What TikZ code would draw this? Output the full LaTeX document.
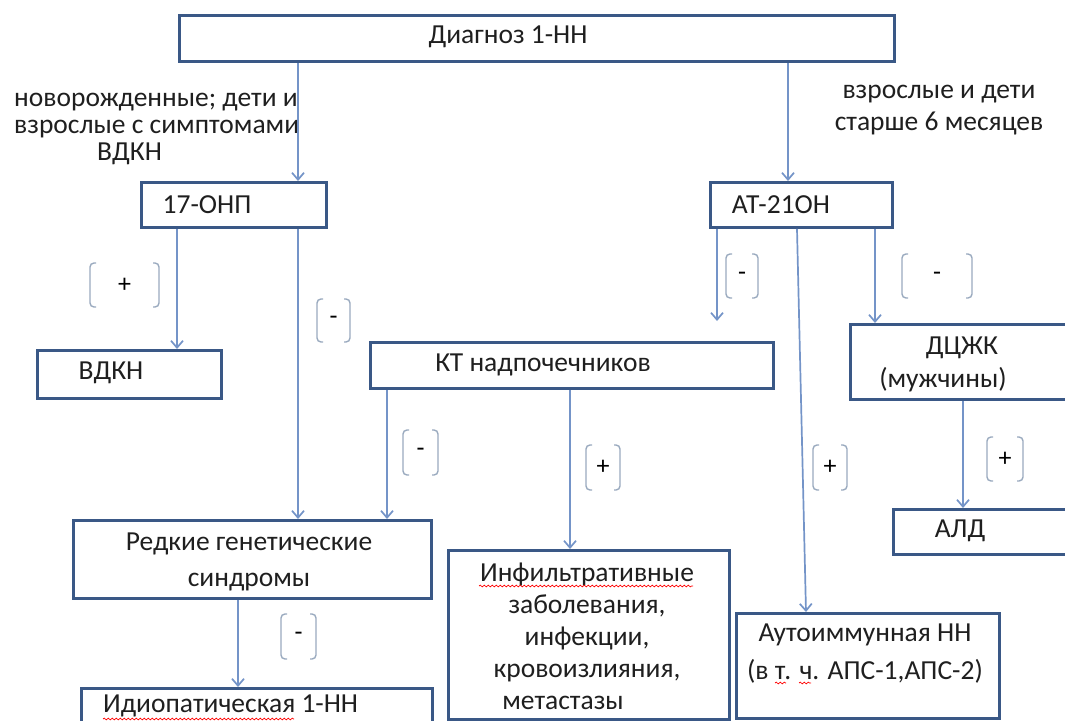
\documentclass[tikz,border=0pt]{standalone}
\usepackage{fontspec}
\setmainfont{Carlito}
\usetikzlibrary{arrows.meta,decorations.pathmorphing}
\definecolor{boxc}{HTML}{3A5886}
\definecolor{arrc}{HTML}{7494C8}
\definecolor{brkc}{HTML}{9AAABF}
\tikzset{
  boxst/.style={draw=boxc, line width=2.9pt, inner sep=0pt, anchor=north west},
  arr/.style={draw=arrc, line width=1.7pt, -{Straight Barb[length=7pt,width=12pt]}},
  txt/.style={font=\fontsize{27.5}{33}\selectfont, text=black!88, inner sep=0pt, align=center},
  brk/.style={draw=brkc, line width=1.4pt, rounded corners=4pt},
  sign/.style={font=\fontsize{26}{26}\selectfont, text=black, inner sep=0pt},
  wavy/.style={draw=red, line width=0.7pt, decorate, decoration={snake, amplitude=0.9pt, segment length=4pt}}
}
\newcommand\sgnbr[6]{%
  \draw[brk] ({#1+6},#3) -- (#1,#3) -- (#1,#4) -- ({#1+6},#4);
  \draw[brk] ({#2-6},#3) -- (#2,#3) -- (#2,#4) -- ({#2-6},#4);
  \node[sign] (#6) at ({(#1+#2)/2},{(#3+#4)/2}) {#5};}
\begin{document}
\begin{tikzpicture}[x=1pt,y=-1pt]
\clip (0,0) rectangle (1065,720);
\fill[white] (0,0) rectangle (1065,720);
% boxes
\node[boxst, minimum width=715pt, minimum height=46pt] (diag) at (178,14) {};
\node[boxst, minimum width=185pt, minimum height=45pt] (onp) at (140,181) {};
\node[boxst, minimum width=182pt, minimum height=45pt] (at) at (709,181) {};
\node[boxst, minimum width=184pt, minimum height=48pt] (vdkn) at (36,349) {};
\node[boxst, minimum width=403pt, minimum height=46pt] (kt) at (369,341) {};
\node[boxst, minimum width=240pt, minimum height=75pt] (dczk) at (849,323) {};
\node[boxst, minimum width=200pt, minimum height=45pt] (ald) at (892,508) {};
\node[boxst, minimum width=358pt, minimum height=78pt] (red) at (72,519) {};
\node[boxst, minimum width=351pt, minimum height=60pt] (idio) at (80,687) {};
\node[boxst, minimum width=281pt, minimum height=169pt] (inf) at (447,549) {};
\node[boxst, minimum width=263pt, minimum height=105pt] (auto) at (735,612) {};
% texts
\node[txt] (diag-t) at (508,37) {Диагноз 1-НН};
\node[txt] (onp-t) at (207,205) {17-ОНП};
\node[txt] (at-t) at (781,205) {АТ-21ОН};
\node[txt] (vdkn-t) at (111,373) {ВДКН};
\node[txt] (kt-t) at (543,365) {КТ надпочечников};
\node[txt, font=\fontsize{27.5}{33}\selectfont] (dczk-t) at (943,364) {\hspace*{38pt}ДЦЖК\\(мужчины)};
\node[txt] (ald-t) at (960,531) {АЛД};
\node[txt, font=\fontsize{27.5}{36}\selectfont] (red-t) at (249,562) {Редкие генетические\\синдромы};
\node[txt, anchor=west] (idio-t) at (103,706) {Идиопатическая 1-НН};
\node[txt, font=\fontsize{27.5}{32}\selectfont] (inf-t) at (587,636) {Инфильтративные\\заболевания,\\инфекции,\\кровоизлияния,\\метастазы\hspace*{48pt}};
\node[txt, font=\fontsize{27.5}{38}\selectfont] (auto-t) at (865,654) {Аутоиммунная НН\\(в т. ч. АПС-1,АПС-2)};
\node[txt, align=left, anchor=west, font=\fontsize{27.5}{27}\selectfont] (lab1) at (14,129) {новорожденные; дети и\\взрослые с симптомами\\\hspace*{83pt}ВДКН};
\node[txt, font=\fontsize{27.5}{32}\selectfont] (lab2) at (939,110) {взрослые и дети\\старше 6 месяцев};
% x positions
\coordinate (x177) at (177,0);
\coordinate (x238) at (238,0);
\coordinate (x298) at (298,0);
\coordinate (x387) at (387,0);
\coordinate (x570) at (570,0);
\coordinate (x788) at (788,0);
\coordinate (x797) at (797,0);
\coordinate (x806) at (806,0);
\coordinate (x875) at (875,0);
\coordinate (x963) at (963,0);
\coordinate (ktin) at (717,321);
% connectors
\draw[arr] (diag.south -| x298) -- (onp.north -| x298);
\draw[arr] (diag.south -| x788) -- (at.north -| x788);
\draw[arr] (onp.south -| x177) -- (vdkn.north -| x177);
\draw[arr] (onp.south -| x298) -- (red.north -| x298);
\draw[arr] (kt.south -| x387) -- (red.north -| x387);
\draw[arr] (kt.south -| x570) -- (inf.north -| x570);
\draw[arr] (at.south -| ktin) -- (ktin);
\draw[arr] (at.south -| x797) -- (auto.north -| x806);
\draw[arr] (at.south -| x875) -- (dczk.north -| x875);
\draw[arr] (dczk.south -| x963) -- (ald.north -| x963);
\draw[arr] (red.south -| x238) -- (idio.north -| x238);
% sign brackets
\sgnbr{90}{159}{263}{307}{+}{s1}
\sgnbr{317}{350}{299}{342}{-}{s2}
\sgnbr{403}{438}{430}{475}{-}{s3}
\sgnbr{726}{758}{254}{298}{-}{s4}
\sgnbr{902}{972}{254}{298}{-}{s5}
\sgnbr{586}{620}{445}{490}{+}{s6}
\sgnbr{813}{847}{445}{490}{+}{s7}
\sgnbr{987}{1023}{437}{481}{+}{s8}
\sgnbr{281}{316}{614}{659}{-}{s9}
% spell-check underlines
\draw[wavy] (103,719) -- (294,719);
\draw[wavy] (479,586) -- (693,586);
\draw[wavy] (775,683) -- (786,683);
\draw[wavy] (799,683) -- (811,683);
\end{tikzpicture}
\end{document}
